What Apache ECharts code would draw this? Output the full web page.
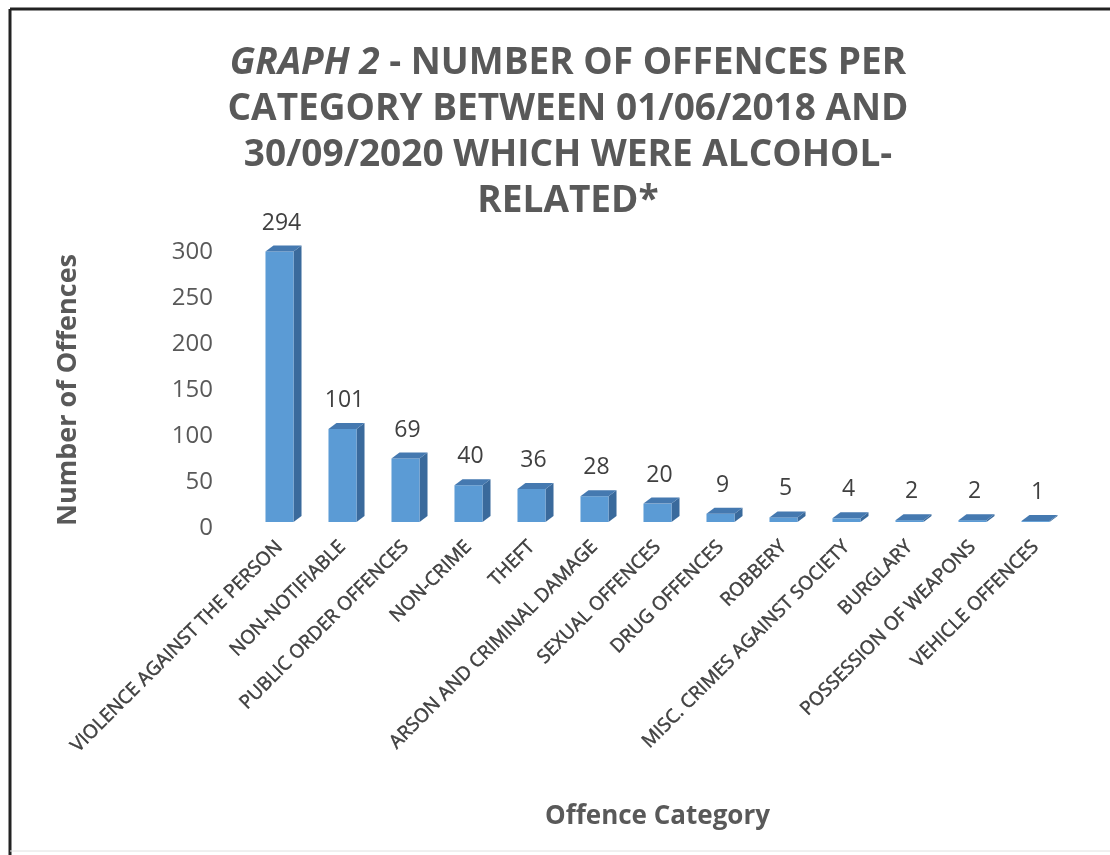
<!DOCTYPE html>
<html>
<head>
<meta charset="utf-8">
<script src="https://cdn.jsdelivr.net/npm/echarts@6/dist/echarts.min.js"></script>
<style>
html,body{margin:0;padding:0;background:#fff;}
#c{width:1110px;height:855px;}
</style>
</head>
<body>
<div id="c"></div>
<script>
const categories = [
  'VIOLENCE AGAINST THE PERSON','NON-NOTIFIABLE','PUBLIC ORDER OFFENCES','NON-CRIME','THEFT',
  'ARSON AND CRIMINAL DAMAGE','SEXUAL OFFENCES','DRUG OFFENCES','ROBBERY','MISC. CRIMES AGAINST SOCIETY',
  'BURGLARY','POSSESSION OF WEAPONS','VEHICLE OFFENCES'
];
const offences = [294, 101, 69, 40, 36, 28, 20, 9, 5, 4, 2, 2, 1];
const yTicks = { min: 0, max: 300, interval: 50 };

const FONT = '"Open Sans", "Liberation Sans", sans-serif';
const GREY = '#595959';

const chart = echarts.init(document.getElementById('c'), null, { renderer: 'canvas' });

function renderBar(params, api) {
  const idx = api.value(0);
  const v = api.value(1);
  const base = api.coord([idx, 0]);
  const top = api.coord([idx, v]);
  const band = api.size([1, 0])[0];
  const bw = band * 0.445;
  const lift = 6, dx = 8, dy = 6;
  const x0 = base[0] - bw / 2;
  const yb = base[1] - lift;
  const yt = top[1] - lift;
  return {
    type: 'group',
    children: [
      { type: 'polygon', shape: { points: [[x0 + bw, yt], [x0 + bw + dx, yt - dy], [x0 + bw + dx, yb - dy], [x0 + bw, yb]] },
        style: { fill: '#3a6a9c' } },
      { type: 'rect', shape: { x: x0, y: yt, width: bw, height: Math.max(yb - yt, 0.5) },
        style: { fill: '#5b9bd5' } },
      { type: 'polygon', shape: { points: [[x0, yt], [x0 + dx, yt - dy], [x0 + bw + dx, yt - dy], [x0 + bw, yt]] },
        style: { fill: '#4579b0' } },
      { type: 'text', style: { text: String(v), x: base[0] + 2, y: yt - dy - 11, align: 'center', verticalAlign: 'bottom',
        fill: '#404040', font: '23px ' + FONT } }
    ]
  };
}

const option = {
  backgroundColor: '#fff',
  animation: false,
  title: {
    text: '{i|GRAPH 2} - NUMBER OF OFFENCES PER\nCATEGORY BETWEEN 01/06/2018 AND\n30/09/2020 WHICH WERE ALCOHOL-\nRELATED*',
    left: 563, top: 35, textAlign: 'center',
    textStyle: {
      fontFamily: FONT, fontWeight: 'bold', fontSize: 37, color: GREY, lineHeight: 46,
      rich: { i: { fontFamily: FONT, fontWeight: 'bold', fontStyle: 'italic', fontSize: 37, color: GREY, lineHeight: 46 } }
    }
  },
  graphic: [
    { type: 'line', shape: { x1: 10, y1: 9, x2: 1110, y2: 9 }, style: { stroke: '#222', lineWidth: 3 } },
    { type: 'line', shape: { x1: 10, y1: 9, x2: 10, y2: 855 }, style: { stroke: '#222', lineWidth: 3 } },
    { type: 'line', shape: { x1: 10, y1: 851, x2: 1110, y2: 851 }, style: { stroke: '#e0e0e0', lineWidth: 1 } }
  ],
  grid: { left: 248, right: 43, top: 252, bottom: 327 },
  xAxis: {
    type: 'category', data: categories,
    name: 'Offence Category', nameLocation: 'middle', nameGap: 276,
    nameTextStyle: { fontFamily: FONT, fontWeight: 'bold', fontSize: 26, color: GREY },
    axisLine: { show: false }, axisTick: { show: false },
    axisLabel: { interval: 0, rotate: 45, margin: 16, fontFamily: FONT, fontSize: 19, color: '#404040',
      textBorderColor: '#404040', textBorderWidth: 0.5 }
  },
  yAxis: {
    type: 'value', min: yTicks.min, max: yTicks.max, interval: yTicks.interval,
    name: 'Number of Offences', nameLocation: 'middle', nameGap: 166, nameRotate: 90,
    nameTextStyle: { fontFamily: FONT, fontWeight: 'bold', fontSize: 27, color: GREY },
    axisLine: { show: false }, axisTick: { show: false }, splitLine: { show: false },
    axisLabel: { margin: 35, fontFamily: FONT, fontSize: 24, color: GREY }
  },
  series: [{
    type: 'custom',
    renderItem: renderBar,
    clip: false,
    data: offences.map((v, i) => [i, v])
  }]
};
chart.setOption(option);
</script>
</body>
</html>
